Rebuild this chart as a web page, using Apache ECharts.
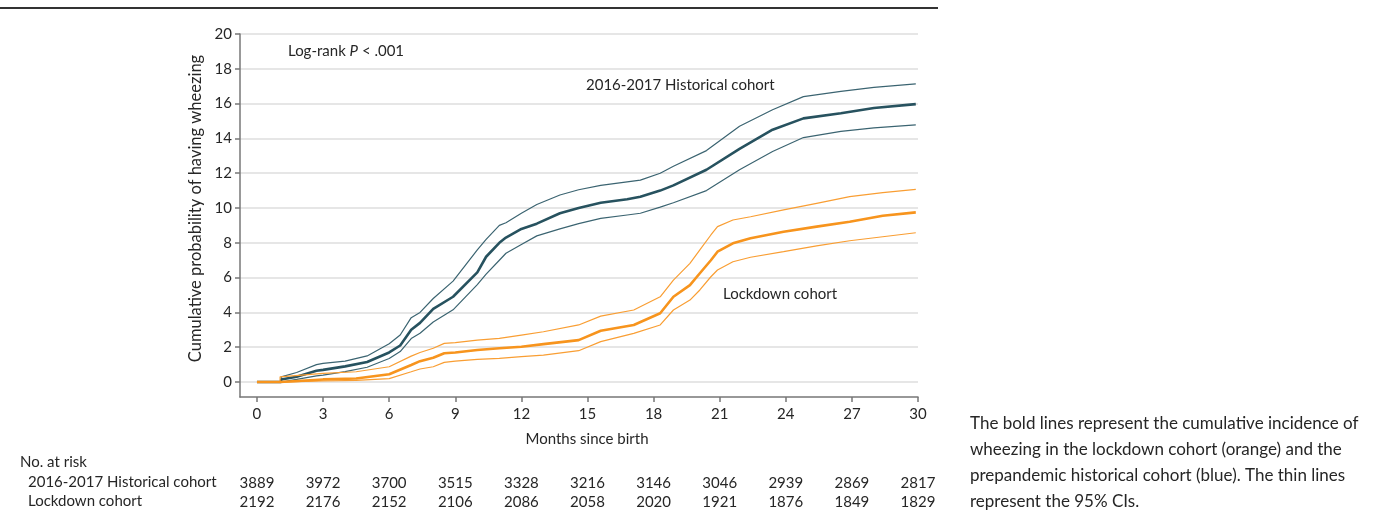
<!DOCTYPE html>
<html>
<head>
<meta charset="utf-8">
<script src="https://cdn.jsdelivr.net/npm/echarts@6/dist/echarts.min.js"></script>
<style>
  html, body { margin: 0; padding: 0; background: #fff; }
  #chart { width: 1381px; height: 510px; }
</style>
</head>
<body>
<div id="chart"></div>
<script>
// month ticks and numbers at risk
var tickMonths = [0, 3, 6, 9, 12, 15, 18, 21, 24, 27, 30];
var yTicks = [0, 2, 4, 6, 8, 10, 12, 14, 16, 18, 20];
var histRisk = [3889, 3972, 3700, 3515, 3328, 3216, 3146, 3046, 2939, 2869, 2817];
var lockRisk = [2192, 2176, 2152, 2106, 2086, 2058, 2020, 1921, 1876, 1849, 1829];

// 2016-2017 historical cohort
var histMonths = [0, 1.1, 1.1, 1.8, 2.7, 3, 4, 5, 6, 6.5, 7, 7.4, 8, 8.9, 10, 10.4, 11, 11.3, 12, 12.7, 13.75, 14.6, 15.6, 16.8, 17.4, 18.3, 18.9, 20.4, 21.9, 23.4, 24.8, 26.5, 28, 29.9];
var histEst = [0, 0, 0.15, 0.3, 0.65, 0.7, 0.9, 1.15, 1.7, 2.1, 3.0, 3.4, 4.2, 4.9, 6.3, 7.2, 8.0, 8.3, 8.8, 9.1, 9.7, 10.0, 10.3, 10.5, 10.65, 11.0, 11.3, 12.2, 13.4, 14.5, 15.15, 15.45, 15.75, 15.97];
var histUpper = [0, 0, 0.3, 0.55, 1.0, 1.07, 1.2, 1.5, 2.2, 2.7, 3.7, 4.0, 4.8, 5.8, 7.6, 8.2, 9.0, 9.15, 9.7, 10.2, 10.75, 11.05, 11.3, 11.5, 11.6, 12.0, 12.4, 13.3, 14.7, 15.65, 16.4, 16.7, 16.93, 17.13];
var histLower = [0, 0, 0.05, 0.15, 0.35, 0.4, 0.6, 0.85, 1.35, 1.75, 2.5, 2.8, 3.45, 4.15, 5.6, 6.2, 7.0, 7.4, 7.9, 8.4, 8.8, 9.1, 9.4, 9.6, 9.7, 10.05, 10.3, 11.0, 12.2, 13.25, 14.05, 14.4, 14.6, 14.78];

// lockdown cohort
var lockMonths = [0, 1.05, 1.05, 3, 4.5, 6, 7, 7.4, 8, 8.5, 9, 10, 11, 12, 13, 14.6, 15.6, 17.1, 18.3, 18.9, 19.65, 20.1, 20.6, 20.9, 21.6, 22.4, 23.9, 25.4, 26.9, 28.4, 29.9];
var lockEst = [0, 0, 0.1, 0.15, 0.2, 0.45, 0.98, 1.2, 1.4, 1.65, 1.7, 1.84, 1.94, 2.03, 2.18, 2.41, 2.95, 3.28, 3.95, 4.9, 5.57, 6.25, 7.0, 7.49, 7.97, 8.26, 8.64, 8.93, 9.21, 9.56, 9.75];
var lockUpper = [0, 0, 0.3, 0.5, 0.59, 0.88, 1.49, 1.7, 1.94, 2.22, 2.26, 2.41, 2.51, 2.7, 2.89, 3.28, 3.79, 4.14, 4.9, 5.86, 6.82, 7.59, 8.45, 8.93, 9.31, 9.5, 9.89, 10.27, 10.65, 10.88, 11.07];
var lockLower = [0, 0, 0.03, 0.06, 0.1, 0.2, 0.59, 0.75, 0.88, 1.13, 1.2, 1.3, 1.36, 1.46, 1.55, 1.8, 2.32, 2.8, 3.28, 4.14, 4.71, 5.29, 6.05, 6.44, 6.91, 7.17, 7.49, 7.82, 8.12, 8.35, 8.58];

var blue = "#27525f";
var blueThin = "#3b6471";
var orange = "#f7941d";
var orangeThin = "#f99e33";
var font = "Lato";
var textColor = "#262626";

function pairs(xs, ys) {
  return xs.map(function(x, i) {
    return [x, ys[i]];
  });
}

function line(name, xs, ys, color, width) {
  return {
    name: name,
    type: "line",
    data: pairs(xs, ys),
    showSymbol: false,
    symbol: "none",
    silent: true,
    lineStyle: { color: color, width: width },
    xAxisIndex: 0,
    yAxisIndex: 0
  };
}

function riskAxis(values, margin) {
  return {
    type: "value",
    min: -0.77,
    max: 30,
    position: "bottom",
    axisLine: { show: false, onZero: false },
    axisTick: { show: false },
    splitLine: { show: false },
    axisLabel: {
      customValues: tickMonths,
      margin: margin,
      color: textColor,
      fontFamily: font,
      fontSize: 15,
      formatter: function(v) {
        var i = tickMonths.indexOf(v);
        return i >= 0 ? String(values[i]) : "";
      }
    }
  };
}

var myChart = echarts.init(document.getElementById("chart"));

myChart.setOption({
  animation: false,
  grid: { left: 240, right: 463, top: 34, bottom: 113 },
  xAxis: [
    {
      type: "value",
      min: -0.77,
      max: 30,
      axisLine: { onZero: false, lineStyle: { color: "#777", width: 1.5 } },
      axisTick: { customValues: tickMonths, length: 5, lineStyle: { color: "#777", width: 1.5 } },
      axisLabel: { customValues: tickMonths, margin: 10, color: textColor, fontFamily: font, fontSize: 15 },
      splitLine: { show: false }
    },
    riskAxis(histRisk, 79),
    riskAxis(lockRisk, 98)
  ],
  yAxis: {
    type: "value",
    min: -0.86,
    max: 20,
    axisLine: { show: true, onZero: false, lineStyle: { color: "#777", width: 1.5 } },
    axisTick: { show: true, customValues: yTicks, length: 5, lineStyle: { color: "#777", width: 1.5 } },
    axisLabel: { customValues: yTicks, margin: 8, color: textColor, fontFamily: font, fontSize: 15 },
    splitLine: { show: true, lineStyle: { color: "#dedede", width: 1.5 } },
    name: "Cumulative probability of having wheezing",
    nameLocation: "middle",
    nameGap: 36,
    nameTextStyle: { color: textColor, fontFamily: font, fontSize: 16.5, padding: [0, 0, 0, 14] }
  },
  series: [
    line("hist upper", histMonths, histUpper, blueThin, 1.2),
    line("hist lower", histMonths, histLower, blueThin, 1.2),
    line("hist", histMonths, histEst, blue, 2.6),
    line("lock upper", lockMonths, lockUpper, orangeThin, 1.2),
    line("lock lower", lockMonths, lockLower, orangeThin, 1.2),
    line("lock", lockMonths, lockEst, orange, 2.6)
  ],
  graphic: [
    { type: "rect", left: 0, top: 7, shape: { width: 938, height: 2 }, style: { fill: "#333" } },
    {
      type: "text", left: 288, top: 44,
      style: {
        text: "Log-rank {i|P} < .001",
        fill: textColor, font: "15px " + font,
        rich: { i: { fontStyle: "italic", fontFamily: font, fontSize: 15, fill: textColor } }
      }
    },
    { type: "text", left: 586, top: 78, style: { text: "2016-2017 Historical cohort", fill: textColor, font: "15px " + font } },
    { type: "text", left: 723, top: 287, style: { text: "Lockdown cohort", fill: textColor, font: "15px " + font } },
    { type: "text", x: 587, y: 439, style: { text: "Months since birth", fill: textColor, font: "15px " + font, align: "center", verticalAlign: "middle" } },
    { type: "text", left: 20, top: 455, style: { text: "No. at risk", fill: textColor, font: "15px " + font } },
    { type: "text", left: 28, top: 475, style: { text: "2016-2017 Historical cohort", fill: textColor, font: "15px " + font } },
    { type: "text", left: 28, top: 494, style: { text: "Lockdown cohort", fill: textColor, font: "15px " + font } },
    {
      type: "text", left: 970, top: 411,
      style: {
        text: "The bold lines represent the cumulative incidence of\nwheezing in the lockdown cohort (orange) and the\nprepandemic historical cohort (blue). The thin lines\nrepresent the 95% CIs.",
        fill: textColor, font: "17px " + font, lineHeight: 26
      }
    }
  ]
});
</script>
</body>
</html>
